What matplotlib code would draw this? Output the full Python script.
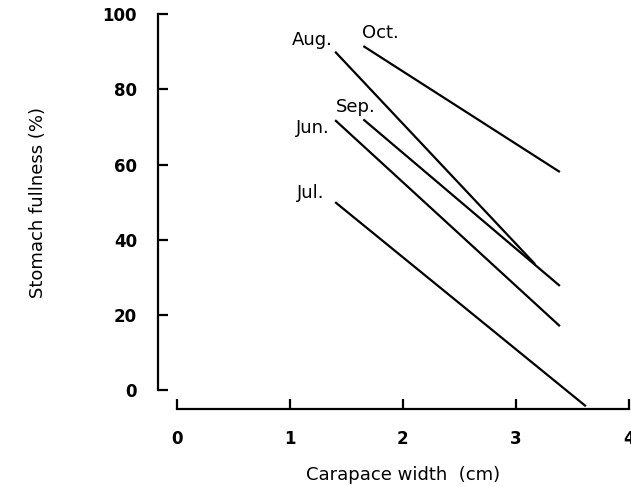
import matplotlib
matplotlib.use("Agg")
import matplotlib.pyplot as plt

months = ["Jun.", "Jul.", "Aug.", "Sep.", "Oct."]
x_start = [1.40, 1.40, 1.40, 1.65, 1.65]
x_end = [3.39, 3.62, 3.17, 3.39, 3.39]
y_start = [71.8, 50.0, 90.0, 72.0, 91.5]
y_end = [17.0, -4.3, 33.5, 27.7, 58.0]
label_x = [1.20, 1.18, 1.20, 1.58, 1.80]
label_y = [69.7, 52.4, 93.0, 75.3, 95.0]

x_ticks = [0, 1, 2, 3, 4]
y_ticks = [0, 20, 40, 60, 80, 100]

fig = plt.figure(figsize=(6.31, 4.87), dpi=100)
ax = fig.add_axes([0.2805, 0.199, 0.716, 0.772])
ax.set_xlim(0, 4)
ax.set_ylim(0, 100)

for m, xs, xe, ys, ye, lx, ly in zip(months, x_start, x_end, y_start, y_end, label_x, label_y):
    ax.plot([xs, xe], [ys, ye], color="black", lw=1.6, clip_on=False, solid_capstyle="butt")
    ax.text(lx, ly, m, fontsize=13, ha="center", va="center", color="black")

for s in ["top", "right"]:
    ax.spines[s].set_visible(False)
ax.spines["left"].set_position(("outward", 13.7))
ax.spines["bottom"].set_position(("outward", 13.7))
ax.spines["left"].set_linewidth(1.6)
ax.spines["bottom"].set_linewidth(1.6)
ax.spines["left"].set_bounds(0, 100)
ax.spines["bottom"].set_bounds(0, 4)

ax.set_xticks(x_ticks)
ax.set_yticks(y_ticks)
ax.set_xticklabels([str(v) for v in x_ticks], fontweight="bold")
ax.set_yticklabels([str(v) for v in y_ticks], fontweight="bold")
ax.tick_params(direction="in", length=7, width=1.6, labelsize=12, pad=15)

ax.set_xlabel("Carapace width  (cm)", fontsize=13, labelpad=13)
ax.set_ylabel("Stomach fullness (%)", fontsize=13, labelpad=40)

fig.savefig("out.png", dpi=100)
